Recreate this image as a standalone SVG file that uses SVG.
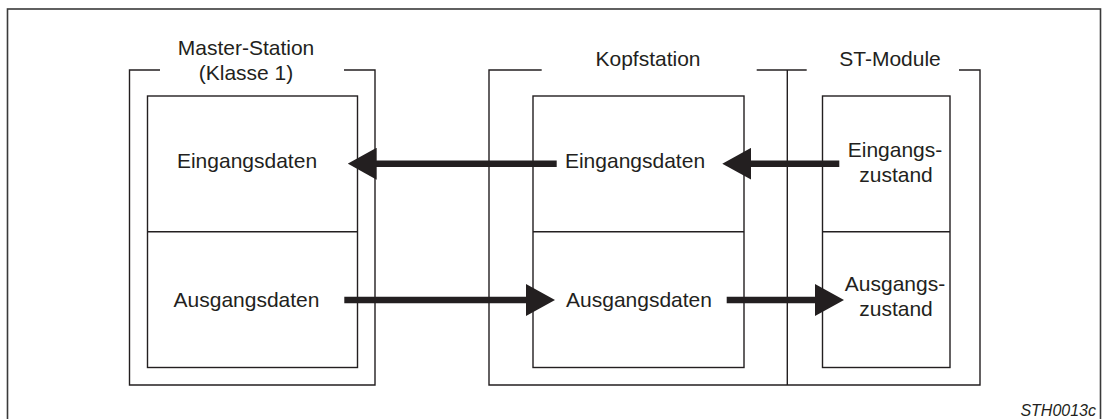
<svg xmlns="http://www.w3.org/2000/svg" width="1103" height="419" viewBox="0 0 1103 419">
  <style>
    .frame { fill: none; stroke: #3a3a3a; stroke-width: 1.6; }
    .box { fill: none; stroke: #231f20; stroke-width: 1.4; }
    .flow { fill: none; stroke: #231f20; stroke-width: 6.4; }
    .lbl { font-family: "Liberation Sans", Arial, sans-serif; font-size: 21px; fill: #231f20; text-anchor: middle; }
    .ref { font-family: "Liberation Sans", Arial, sans-serif; font-size: 16px; font-style: italic; fill: #231f20; text-anchor: end; }
  </style>
  <defs>
    <marker id="head" markerUnits="userSpaceOnUse" markerWidth="29" markerHeight="32" refX="9" refY="16" orient="auto" viewBox="0 0 29 32">
      <path d="M0,0 L29,16 L0,32 Z" fill="#231f20"/>
    </marker>
  </defs>

  <rect width="1103" height="419" fill="#ffffff"/>
  <!-- outer sheet frame, open towards the bottom edge -->
  <rect class="frame" x="7.5" y="9" width="1093" height="430"/>

  <!-- master station (class 1) -->
  <g id="master">
    <path class="box" d="M160,70 H129.5 V385 H375 V70 H344"/>
    <text class="lbl" x="246" y="55">Master-Station</text>
    <text class="lbl" x="246" y="80">(Klasse 1)</text>
    <rect class="box" x="147.5" y="96" width="210" height="271.5"/>
    <line class="box" x1="147.5" y1="231.7" x2="357.5" y2="231.7"/>
    <text class="lbl" x="247" y="168">Eingangsdaten</text>
    <text class="lbl" x="246.5" y="307">Ausgangsdaten</text>
  </g>

  <!-- head station and ST modules share one enclosure -->
  <g id="enclosure">
    <path class="box" d="M541.7,70 H489 V385 H980 V70 H959"/>
    <path class="box" d="M806.7,70 H756.7"/>
    <line class="box" x1="787.3" y1="70" x2="787.3" y2="385"/>
  </g>

  <g id="kopfstation">
    <text class="lbl" x="648" y="66">Kopfstation</text>
    <rect class="box" x="533" y="96" width="211" height="271.5"/>
    <line class="box" x1="533" y1="231.7" x2="744" y2="231.7"/>
    <text class="lbl" x="635" y="168">Eingangsdaten</text>
    <text class="lbl" x="639" y="307">Ausgangsdaten</text>
  </g>

  <g id="st-module">
    <text class="lbl" x="890" y="66">ST-Module</text>
    <rect class="box" x="822.5" y="96" width="127.5" height="271.5"/>
    <line class="box" x1="822.5" y1="231.7" x2="950" y2="231.7"/>
    <text class="lbl" x="895" y="157">Eingangs-</text>
    <text class="lbl" x="896" y="182">zustand</text>
    <text class="lbl" x="895" y="291">Ausgangs-</text>
    <text class="lbl" x="896" y="316">zustand</text>
  </g>

  <!-- data flows -->
  <g id="connectors">
    <line class="flow" x1="556.7" y1="163.7" x2="367.7" y2="163.7" marker-end="url(#head)"/>
    <line class="flow" x1="839.3" y1="163.7" x2="742.3" y2="163.7" marker-end="url(#head)"/>
    <line class="flow" x1="344.3" y1="300" x2="535" y2="300" marker-end="url(#head)"/>
    <line class="flow" x1="726.7" y1="300" x2="824" y2="300" marker-end="url(#head)"/>
  </g>

  <text class="ref" x="1096" y="416">STH0013c</text>
</svg>
